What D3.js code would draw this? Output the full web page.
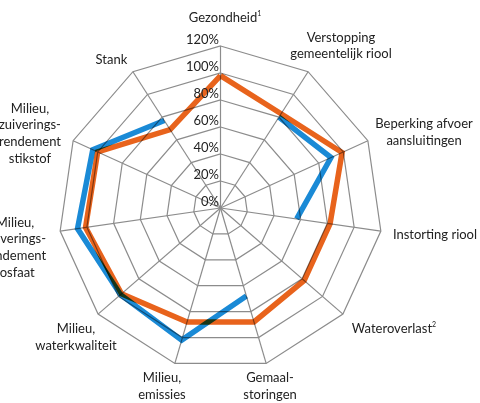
<!DOCTYPE html>
<html>
<head>
<meta charset="utf-8">
<script src="https://cdn.jsdelivr.net/npm/d3@7"></script>
<style>
  body { margin: 0; background: #fff; }
  text { font-family: Lato, "Open Sans", sans-serif; fill: #222; }
</style>
</head>
<body>
<div id="chart"></div>
<script>
// axis names, clockwise starting at the top (sup = footnote mark)
var categories = [
  { lines: ["Gezondheid"], sup: "1" },
  { lines: ["Verstopping", "gemeentelijk riool"] },
  { lines: ["Beperking afvoer", "aansluitingen"] },
  { lines: ["Instorting riool"] },
  { lines: ["Wateroverlast"], sup: "2" },
  { lines: ["Gemaal-", "storingen"] },
  { lines: ["Milieu,", "emissies"] },
  { lines: ["Milieu,", "waterkwaliteit"] },
  { lines: ["Milieu,", "zuiverings-", "rendement", "fosfaat"] },
  { lines: ["Milieu,", "zuiverings-", "rendement", "stikstof"] },
  { lines: ["Stank"] }
];

// percentages, null = no value
var orangeValues = [98, 83, 99, 82, 82, 88, 88, 97, 101, 100, 69];
var blueValues = [null, 80, 90, 57, null, 68, 102, 98, 107, 104, 77];

var tickValues = [0, 20, 40, 60, 80, 100, 120];

var width = 480, height = 403;
var cx = 220.5, cy = 208, radius = 162;
var gridColor = "#8c8c8c";

// small shifts so the axis labels sit where they do in the original
var labelNudge = [
  [4.5, -0.5], [17.8, -2.5], [30.7, 2.6], [26.4, -0.5], [29.9, -3.9], [-4, -4.5],
  [-5, -4.5], [-0.9, 4.3], [-17.4, 12.2], [-17.7, 4.1], [-6.3, 11.3]
];

var svg = d3.select("#chart")
  .append("svg")
  .attr("width", width)
  .attr("height", height);

var g = svg.append("g")
  .attr("transform", "translate(" + cx + "," + cy + ")");

var r = d3.scaleLinear().domain([0, 120]).range([0, radius]);
var angle = d3.scalePoint()
  .domain(d3.range(categories.length + 1))
  .range([0, 2 * Math.PI]);

function px(i, v) { return r(v) * Math.sin(angle(i)); }
function py(i, v) { return -r(v) * Math.cos(angle(i)); }

// rings
g.selectAll(".ring")
  .data(tickValues.slice(1))
  .enter()
  .append("polygon")
  .attr("points", function(t) {
    return categories.map(function(c, i) { return px(i, t) + "," + py(i, t); }).join(" ");
  })
  .attr("fill", "none")
  .attr("stroke", gridColor)
  .attr("stroke-width", 1.2);

// spokes
g.selectAll(".spoke")
  .data(categories)
  .enter()
  .append("line")
  .attr("x1", 0).attr("y1", 0)
  .attr("x2", function(d, i) { return px(i, 120); })
  .attr("y2", function(d, i) { return py(i, 120); })
  .attr("stroke", gridColor)
  .attr("stroke-width", 1.2);

// series
var line = d3.lineRadial()
  .defined(function(d) { return d.v != null; })
  .angle(function(d) { return angle(d.i); })
  .radius(function(d) { return r(d.v); });

function seriesPath(values, color, w) {
  // repeat the first point to close the loop
  var pts = values.map(function(v, i) { return { i: i, v: v }; });
  pts.push({ i: values.length, v: values[0] });
  g.append("path")
    .datum(pts)
    .attr("d", line)
    .attr("fill", "none")
    .attr("stroke", color)
    .attr("stroke-width", w)
    .attr("stroke-linejoin", "miter")
    .style("mix-blend-mode", "multiply");
}

seriesPath(orangeValues, "#e8631c", 5.5);
seriesPath(blueValues, "#1a8ad6", 5.5);

// tick labels along the top spoke
g.selectAll(".tick")
  .data(tickValues)
  .enter()
  .append("text")
  .attr("x", -1.5)
  .attr("y", function(t) { return -r(t) - 2; })
  .attr("text-anchor", "end")
  .style("font-size", "13px")
  .text(function(t) { return t + "%"; });

// axis labels
var lh = 16.7, labelR = 190;
var labels = g.selectAll(".label")
  .data(categories)
  .enter()
  .append("text")
  .attr("text-anchor", "middle")
  .style("font-size", "13px")
  .attr("transform", function(d, i) {
    var x = labelR * Math.sin(angle(i)) + labelNudge[i][0];
    var y = -labelR * Math.cos(angle(i)) + labelNudge[i][1];
    y = y - (d.lines.length - 1) * lh / 2 + 4.5;
    return "translate(" + x + "," + y + ")";
  });

labels.each(function(d) {
  var t = d3.select(this);
  d.lines.forEach(function(s, k) {
    t.append("tspan").attr("x", 0).attr("dy", k == 0 ? 0 : lh).text(s);
  });
  if (d.sup) {
    t.append("tspan").attr("dy", -6).style("font-size", "7px").text(d.sup);
  }
});
</script>
</body>
</html>
